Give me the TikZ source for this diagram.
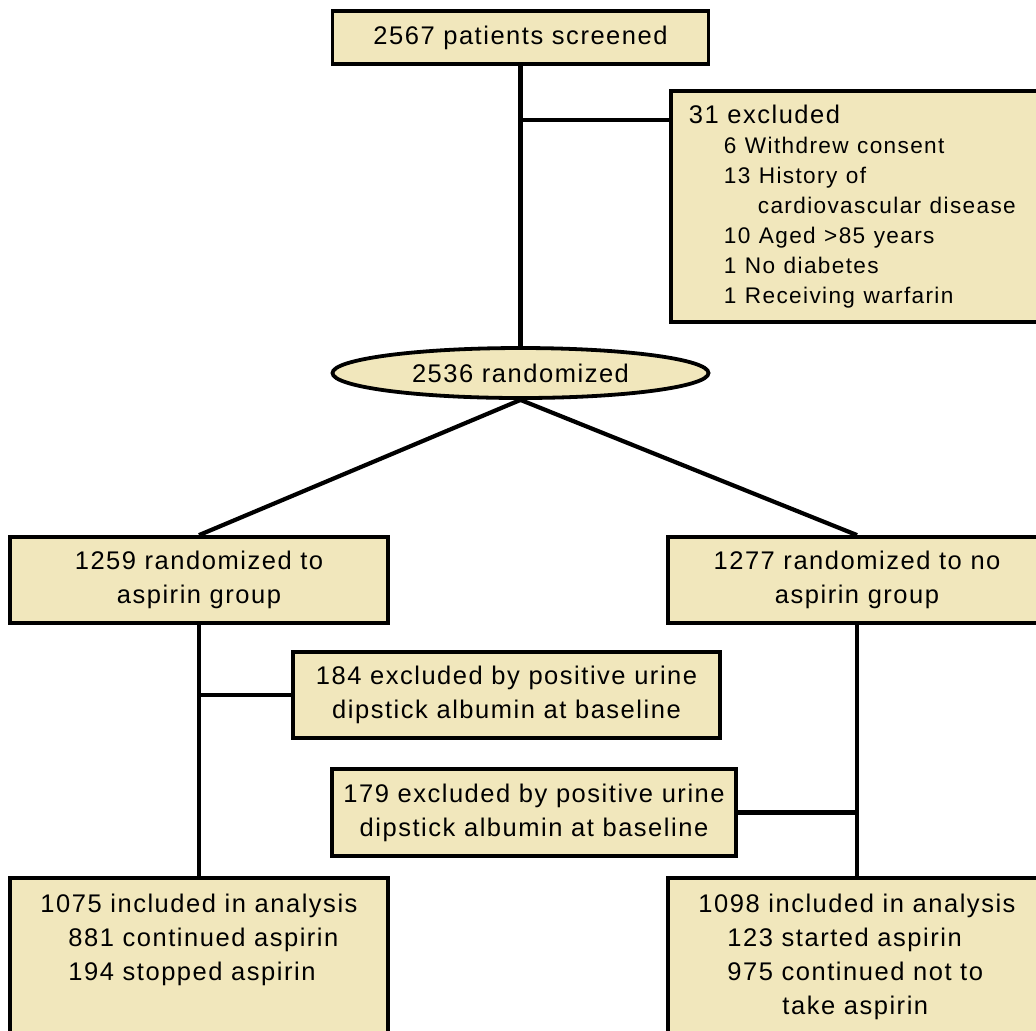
\documentclass[tikz,border=0pt]{standalone}
\usepackage{fontspec}
\usetikzlibrary{shapes.geometric}
\newfontfamily\flowfont[LetterSpace=6]{Liberation Sans}
\newcommand\subsize{\fontsize{11.3}{15}\selectfont}
\definecolor{boxfill}{RGB}{241,231,188}
\tikzset{
    box/.style={draw, fill=boxfill, line width=1.9pt, inner sep=0pt, align=center,
        font=\flowfont\fontsize{12.75}{17}\selectfont},
    link/.style={line width=2.1pt}
}
\begin{document}
\begin{tikzpicture}[x=0.5pt, y=-0.5pt]
    \useasboundingbox[fill=white] (0,0) rectangle (1036,1030);
    \clip (0,0) rectangle (1036,1030);
    \node[box, minimum width=188pt, minimum height=26.5pt] (screened) at (520.5,37.5) {2567 patients screened};
    \node[box, anchor=north west, minimum height=115.5pt, text width=180pt, inner xsep=9pt, align=left,
        font=\flowfont\fontsize{12.75}{15}\selectfont] (excl) at (669,89)
        {31 excluded\\
        \subsize\hspace*{17.5pt}6 Withdrew consent\\
        \subsize\hspace*{17.5pt}13 History of\\
        \subsize\hspace*{34.5pt}cardiovascular disease\\
        \subsize\hspace*{17.5pt}10 Aged >85 years\\
        \subsize\hspace*{17.5pt}1 No diabetes\\
        \subsize\hspace*{17.5pt}1 Receiving warfarin};
    \node[box, ellipse, minimum width=188pt, minimum height=25pt] (rand) at (520.5,373) {2536 randomized};
    \node[box, minimum width=189pt, minimum height=43pt] (asp) at (199,580) {1259 randomized to\\aspirin group};
    \node[box, minimum width=189pt, minimum height=43pt] (noasp) at (857,580) {1277 randomized to no\\aspirin group};
    \node[box, minimum width=213.5pt, minimum height=43pt] (ex184) at (506.5,695) {184 excluded by positive urine\\dipstick albumin at baseline};
    \node[box, minimum width=202pt, minimum height=43.5pt] (ex179) at (534,812.5) {179 excluded by positive urine\\dipstick albumin at baseline};
    \node[box, anchor=north, minimum width=189pt, inner ysep=8pt, align=left, text depth=60pt] (inc1) at (199,876)
        {1075 included in analysis\\
        \hspace*{14pt}881 continued aspirin\\
        \hspace*{14pt}194 stopped aspirin};
    \node[box, anchor=north, minimum width=189pt, inner ysep=8pt, align=left, text depth=60pt] (inc2) at (857,876)
        {1098 included in analysis\\
        \hspace*{14.5pt}123 started aspirin\\
        \hspace*{14.5pt}975 continued not to\\
        \hspace*{42pt}take aspirin};
    \coordinate (split) at (520.5,120);
    \draw[link] (screened.south) -- (rand.north);
    \draw[link] (split) -- (split -| excl.west);
    \draw[link] (rand.south) -- (asp.north);
    \draw[link] (rand.south) -- (noasp.north);
    \draw[link] (asp.south) -- (inc1.north);
    \draw[link] (asp.south |- ex184.west) -- (ex184.west);
    \draw[link] (noasp.south) -- (inc2.north);
    \draw[link] (ex179.east) -- (ex179.east -| noasp.south);
\end{tikzpicture}
\end{document}
